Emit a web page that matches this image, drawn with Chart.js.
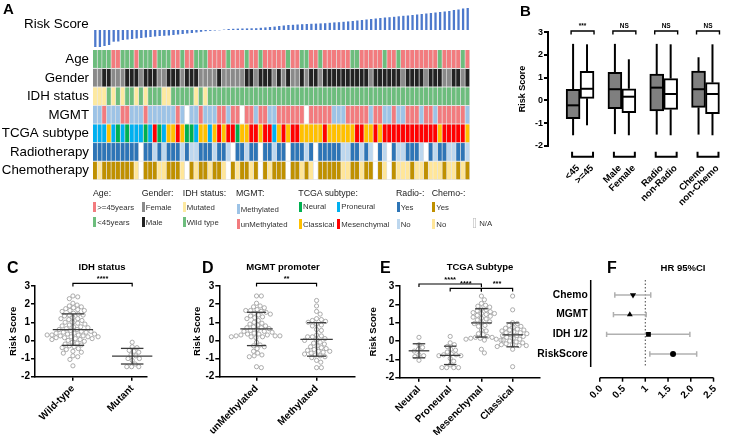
<!DOCTYPE html>
<html>
<head>
<meta charset="utf-8">
<title>Risk score figure</title>
<script src="https://cdn.jsdelivr.net/npm/chart.js@4.4.1/dist/chart.umd.min.js"></script>
<style>
  body { margin: 0; width: 738px; height: 435px; position: relative; overflow: hidden; background: #fff; font-family: "Liberation Sans", Arial, sans-serif; }
  canvas { position: absolute; }
  .t { position: absolute; white-space: nowrap; line-height: 1; color: #000; }
  .letter { font-weight: bold; }
  .ptitle { font-weight: bold; font-size: 9.5px; transform: translateX(-50%); }
  .lh { font-size: 8.8px; color: #222; }
  .li { position: absolute; display: flex; align-items: center; height: 10px; font-size: 7.8px; color: #333; white-space: nowrap; }
  .li i { display: block; width: 3px; height: 10px; margin-right: 1px; }
</style>
</head>
<body>
<canvas id="risk" width="474" height="50" style="left:0;top:0"></canvas>
<canvas id="heat" width="474" height="158" style="left:0;top:36px"></canvas>
<canvas id="boxB" width="268" height="210" style="left:470px;top:0"></canvas>
<canvas id="dotC" width="185" height="173" style="left:0;top:262px"></canvas>
<canvas id="dotD" width="177" height="173" style="left:185px;top:262px"></canvas>
<canvas id="dotE" width="183" height="173" style="left:362px;top:262px"></canvas>
<canvas id="forF" width="208" height="180" style="left:530px;top:255px"></canvas>

<div class="t letter" style="left:3px;top:1px;font-size:15px">A</div>
<div class="t letter" style="left:520px;top:3px;font-size:15px">B</div>
<div class="t letter" style="left:7px;top:260px;font-size:16px">C</div>
<div class="t letter" style="left:202px;top:260px;font-size:16px">D</div>
<div class="t letter" style="left:380px;top:260px;font-size:16px">E</div>
<div class="t letter" style="left:607px;top:260px;font-size:16px">F</div>

<div class="t" style="left:24px;top:17px;font-size:13.4px">Risk Score</div>

<div class="t ptitle" style="left:102px;top:262px">IDH status</div>
<div class="t ptitle" style="left:283px;top:262px">MGMT promoter</div>
<div class="t ptitle" style="left:480px;top:262px">TCGA Subtype</div>
<div class="t ptitle" style="left:683px;top:263px">HR 95%CI</div>

<!-- legend of panel A -->
<div class="t lh" style="left:93px;top:189px">Age:</div>
<div class="t lh" style="left:141.7px;top:189px">Gender:</div>
<div class="t lh" style="left:182.7px;top:189px">IDH status:</div>
<div class="t lh" style="left:236px;top:189px">MGMT:</div>
<div class="t lh" style="left:298.3px;top:189px">TCGA subtype:</div>
<div class="t lh" style="left:396px;top:189px">Radio-:</div>
<div class="t lh" style="left:431.7px;top:189px">Chemo-:</div>

<div class="li" style="left:93.3px;top:202.3px"><i style="background:#f27b7e"></i>&gt;=45years</div>
<div class="li" style="left:141.7px;top:202.3px"><i style="background:#8a8a8a"></i>Female</div>
<div class="li" style="left:182.7px;top:202.3px"><i style="background:#fde9a0"></i>Mutated</div>
<div class="li" style="left:236.7px;top:204px"><i style="background:#9dc3e6"></i>Methylated</div>
<div class="li" style="left:299px;top:201.7px"><i style="background:#00b050"></i>Neural</div>
<div class="li" style="left:337.3px;top:201.7px"><i style="background:#00b0f0"></i>Proneural</div>
<div class="li" style="left:396.7px;top:202.3px"><i style="background:#2e75b6"></i>Yes</div>
<div class="li" style="left:432.3px;top:202.3px"><i style="background:#bf9000"></i>Yes</div>

<div class="li" style="left:93.3px;top:217.3px"><i style="background:#6dbd7d"></i>&lt;45years</div>
<div class="li" style="left:141.7px;top:217.3px"><i style="background:#222222"></i>Male</div>
<div class="li" style="left:182.7px;top:217.3px"><i style="background:#6dbd7d"></i>Wild type</div>
<div class="li" style="left:236.7px;top:219px"><i style="background:#f27b7e"></i>unMethylated</div>
<div class="li" style="left:299px;top:219.3px"><i style="background:#ffc000"></i>Classical</div>
<div class="li" style="left:337.3px;top:219.3px"><i style="background:#ff0000"></i>Mesenchymal</div>
<div class="li" style="left:396.7px;top:219px"><i style="background:#bdd7ee"></i>No</div>
<div class="li" style="left:432.3px;top:219px"><i style="background:#ffe699"></i>No</div>
<div class="li" style="left:473px;top:218px"><i style="background:#fff;box-shadow:inset 0 0 0 0.6px #bbb"></i>&nbsp;N/A</div>

<script>
// ---------- data ----------
const riskScores = [
  -1.7, -1.7, -1.6, -1.5, -1.17, -1.15,
  -1.0, -0.95, -0.9, -0.85, -0.8, -0.75, -0.7,
  -0.65, -0.6, -0.58, -0.55, -0.5,
  -0.45, -0.4, -0.35, -0.3, -0.25,
  -0.18, -0.12, -0.08, -0.05,
  -0.03, 0.04,
  0.1, 0.12, 0.14, 0.15, 0.16, 0.17, 0.18,
  0.22, 0.26, 0.3, 0.34, 0.4, 0.45,
  0.5, 0.52, 0.55, 0.58, 0.6,
  0.62, 0.64, 0.66, 0.68, 0.72, 0.76,
  0.78, 0.82, 0.86, 0.9,
  0.95, 1.0, 1.05, 1.1,
  1.15, 1.2, 1.25, 1.28,
  1.32, 1.37, 1.42, 1.45,
  1.5, 1.55, 1.6, 1.65,
  1.7, 1.75, 1.8, 1.85,
  1.9, 2.0, 2.05, 2.15, 2.2
];

const rowNames = ['Age', 'Gender', 'IDH status', 'MGMT', 'TCGA subtype', 'Radiotherapy', 'Chemotherapy'];
// one letter per patient, same order as riskScores
const ageRow    = ('GGGGRRGGGRGGGRGGGRRGRRGGGRRRRGRRRGRRGRRRR' + 'RGRRGGRRGRRRRRRGGRRRRRGRRGRRRRRRRRGRRRRGR').split('');
const genderRow = ('YYKKYYYKKKYKKKYYKKKYKKKYYYYKYYYYYKKYKKKYK' + 'YKYYKYKKYKKKKKKKKKKYKKKKKKYKKKKYKKKYYKKYK').split('');
const idhRow    = ('MMMWMWMWWMWMWWWMMWWWWWMWMWWWWWWWWWWWWWWWW' + 'WWWWWWWWWWWWWWWWWWWWWWWWWWWWWWWWWWWWWWWWW').split('');
const mgmtRow   = ('BBUBBBUUBBBUBBBBBBUBNBBUBBBUUBUUNUUBUUBBU' + 'UUUUUNUUUUUBBBUUUUUBUUBBUBBUUUBUUBUUUUUUB').split('');
const tcgaRow   = ('PPPCPNPNPPPNPMNPCCMCNNPCCPCMCMMNCCMMCMMPC' + 'MCMMCCCCCMCCCCCCMMCCMCMMMMMMMMMMMMCMMMMMC').split('');
const radioRow  = ('DDDDDDDDDDNDDLDLDDDLDLLDDDLDDLNDDLDDNDDLD' + 'DNDDDLDNDDDDDLLDDLDLNDLNDLLDDDLNDLDDLLDDL').split('');
const chemoRow  = ('YOYYYYYYYONYYYOOYYYONYOYYOYYONYOYYOYNYOYY' + 'YNYYOYONYYYYYOOYYOYYNYONYOOOYOOYOOOYOOYOY').split('');

const boxLabels = ['<45', '>=45', 'Male', 'Female', 'Radio', 'non-Radio', 'Chemo', 'non-Chemo'];
const boxMin = [-1.54, -1.1, -1.49, -1.54, -1.51, -1.54, -1.51, -1.54];
const boxQ1  = [-0.81, 0.09, -0.37, -0.54, -0.47, -0.4, -0.31, -0.59];
const boxMed = [-0.22, 0.51, 0.49, 0.16, 0.56, 0.28, 0.49, 0.28];
const boxQ3  = [0.49, 1.28, 1.24, 0.51, 1.16, 0.96, 1.29, 0.78];
const boxMax = [2.49, 2.47, 2.49, 1.81, 2.49, 2.47, 1.9, 2.47];
const boxSig = ['***', 'NS', 'NS', 'NS'];

const yTicks = [-2, -1, 0, 1, 2, 3];

const idhCats = ['Wild-type', 'Mutant'];
const idhWild = [2.45, 2.4, 2.3, 2.05, 1.95, 1.9, 1.85, 1.8, 1.75, 1.7, 1.65, 1.65, 1.6, 1.5, 1.45, 1.4, 1.4, 1.35, 1.25, 1.2,
  1.2, 1.15, 1.1, 1.0, 1.0, 0.95, 0.9, 0.85, 0.8, 0.75, 0.75, 0.7, 0.65, 0.6, 0.6, 0.55, 0.5, 0.5, 0.45, 0.45,
  0.4, 0.4, 0.35, 0.35, 0.3, 0.3, 0.3, 0.25, 0.25, 0.2, 0.2, 0.2, 0.15, 0.15, 0.1, 0.1, 0.05, 0.05, 0.0, -0.05,
  -0.1, -0.15, -0.2, -0.25, -0.3, -0.35, -0.4, -0.45, -0.5, -0.6, -0.65, -0.7, -0.85, -0.9, -1.05, -1.4];
const idhMut = [-0.1, -0.35, -0.4, -0.55, -0.6, -0.65, -0.8, -0.85, -1.0, -1.0, -1.1, -1.3, -1.45, -1.45, -1.45];

const mgmtCats = ['unMethylated', 'Methylated'];
const mgmtUn = [2.45, 2.45, 2.05, 1.9, 1.85, 1.8, 1.7, 1.65, 1.65, 1.6, 1.55, 1.5, 1.45, 1.4, 1.35, 1.3, 1.25, 1.2, 1.1, 1.0,
  0.95, 0.9, 0.85, 0.8, 0.75, 0.7, 0.7, 0.65, 0.6, 0.55, 0.5, 0.5, 0.45, 0.4, 0.35, 0.35, 0.3, 0.3, 0.25, 0.25,
  0.25, 0.2, 0.2, 0.2, 0.15, -0.1, -0.25, -0.3, -0.35, -0.45, -0.6, -0.7, -0.8, -0.85, -0.9, -1.45, -1.5];
const mgmtMe = [2.2, 1.9, 1.6, 1.45, 1.2, 1.15, 1.1, 1.05, 1.0, 0.9, 0.85, 0.8, 0.6, 0.55, 0.3, 0.25, 0.2, 0.2, 0.1, 0.05,
  0.0, -0.1, -0.15, -0.2, -0.3, -0.35, -0.4, -0.45, -0.5, -0.55, -0.6, -0.6, -0.65, -0.7, -0.75, -0.8, -0.85, -0.9,
  -0.95, -1.1, -1.2, -1.5, -1.5];

const tcgaCats = ['Neural', 'Proneural', 'Mesenchymal', 'Classical'];
const tcgaNeu = [0.2, -0.2, -0.35, -0.45, -0.55, -0.75, -0.8, -0.85, -1.05];
const tcgaPro = [0.25, -0.1, -0.2, -0.3, -0.45, -0.5, -0.6, -0.7, -0.75, -0.75, -0.8, -0.8, -0.95, -1.1, -1.3, -1.45, -1.45, -1.45, -1.45];
const tcgaMes = [2.45, 2.25, 2.05, 1.95, 1.9, 1.85, 1.75, 1.7, 1.65, 1.6, 1.55, 1.5, 1.5, 1.45, 1.4, 1.35, 1.3, 1.25, 1.2, 1.15,
  1.05, 1.0, 0.95, 0.85, 0.8, 0.6, 0.55, 0.4, 0.35, 0.25, 0.2, 0.2, 0.15, 0.15, 0.1, 0.1, 0.05, 0.05, -0.45, -0.65];
const tcgaCla = [2.45, 1.7, 1.0, 0.95, 0.85, 0.8, 0.75, 0.7, 0.65, 0.6, 0.6, 0.55, 0.5, 0.45, 0.45, 0.4, 0.35, 0.3, 0.3, 0.25,
  0.2, 0.15, 0.1, 0.05, 0.0, -0.05, -0.1, -0.15, -0.2, -0.2, -0.25, -0.25, -0.3, -0.45, -1.4];

const hrVars = ['Chemo', 'MGMT', 'IDH 1/2', 'RiskScore'];
const hrVal  = [0.73, 0.66, 1.07, 1.61];
const hrLow  = [0.33, 0.30, 0.15, 1.10];
const hrHigh = [1.12, 1.02, 1.98, 2.13];
const hrTicks = [0, 0.5, 1, 1.5, 2, 2.5];

// ---------- styles ----------
Chart.defaults.font.family = "'Liberation Sans', Arial, sans-serif";
Chart.defaults.color = '#000';
Chart.defaults.animation = false;
Chart.defaults.responsive = false;
Chart.defaults.plugins.legend.display = false;
Chart.defaults.plugins.tooltip.enabled = false;

const noGrid = { display: false, drawTicks: false };

const rowColors = [
  { G: '#6dbd7d', R: '#f27b7e' },
  { Y: '#8a8a8a', K: '#222222' },
  { M: '#fde9a0', W: '#6dbd7d' },
  { B: '#9dc3e6', U: '#f27b7e', N: '#ffffff' },
  { N: '#00b050', P: '#00b0f0', C: '#ffc000', M: '#ff0000' },
  { D: '#2e75b6', L: '#bdd7ee', N: '#ffffff' },
  { Y: '#bf9000', O: '#ffe699', N: '#ffffff' }
];
const heatRows = [ageRow, genderRow, idhRow, mgmtRow, tcgaRow, radioRow, chemoRow];
const patients = riskScores.map((_, i) => i + 1);

// ---------- A: risk score bars ----------
new Chart(document.getElementById('risk'), {
  type: 'bar',
  data: {
    labels: patients,
    datasets: [{ data: riskScores, backgroundColor: '#4d79cc', barPercentage: 0.5, categoryPercentage: 1 }]
  },
  options: {
    layout: { padding: { left: 93, right: 4, top: 7, bottom: 3 } },
    scales: { x: { display: false }, y: { display: false, min: -1.7, max: 2.3 } }
  }
});

// ---------- A: heatmap ----------
new Chart(document.getElementById('heat'), {
  type: 'bar',
  data: {
    labels: patients,
    datasets: heatRows.map((row, r) => ({
      data: row.map(() => 1),
      backgroundColor: row.map(c => rowColors[r][c]),
      borderColor: '#e4e4e4',
      borderWidth: { top: 0, left: 0, right: 1, bottom: 1 },
      borderSkipped: false,
      barPercentage: 1,
      categoryPercentage: 1
    }))
  },
  options: {
    layout: { padding: { left: 0, right: 4, top: 14, bottom: 14 } },
    scales: {
      x: { display: false, stacked: true },
      y: {
        stacked: true, min: 0, max: 7, reverse: true,
        afterFit: s => { s.width = 93; },
        afterBuildTicks: s => { s.ticks = rowNames.map((_, i) => ({ value: i + 0.5 })); },
        ticks: { padding: 4, font: { size: 13.3 }, callback: (v, i) => rowNames[i] },
        grid: noGrid,
        border: { display: false }
      }
    }
  }
});

// ---------- B: box plots ----------
const boxPos = boxLabels.map((_, i) => Math.floor(i / 2) * 3 + (i % 2));

const boxExtras = {
  id: 'boxExtras',
  afterDatasetsDraw(chart) {
    const { ctx, scales: { y } } = chart;
    const bars = chart.getDatasetMeta(0).data;
    ctx.save();
    ctx.strokeStyle = '#000';
    ctx.lineWidth = 2;
    const line = (x1, y1, x2, y2) => { ctx.beginPath(); ctx.moveTo(x1, y1); ctx.lineTo(x2, y2); ctx.stroke(); };
    bars.forEach((b, i) => {
      const half = b.width / 2;
      line(b.x, y.getPixelForValue(boxMax[i]), b.x, y.getPixelForValue(boxQ3[i]));
      line(b.x, y.getPixelForValue(boxQ1[i]), b.x, y.getPixelForValue(boxMin[i]));
      line(b.x - half + 1, y.getPixelForValue(boxMed[i]), b.x + half - 1, y.getPixelForValue(boxMed[i]));
    });
    ctx.restore();
  },
  afterDraw(chart) {
    // pair brackets above the boxes and under them
    const { ctx, chartArea, scales: { y } } = chart;
    const bars = chart.getDatasetMeta(0).data;
    ctx.save();
    ctx.strokeStyle = '#000';
    ctx.fillStyle = '#000';
    ctx.font = 'bold 6.5px "Liberation Sans", Arial';
    ctx.textAlign = 'center';
    ctx.textBaseline = 'bottom';
    const topY = y.getPixelForValue(3.06);
    const botY = chartArea.bottom + 11;
    boxSig.forEach((txt, p) => {
      const x1 = bars[2 * p].x - 2, x2 = bars[2 * p + 1].x + 7;
      ctx.lineWidth = 1.4;
      ctx.beginPath(); ctx.moveTo(x1, topY + 3.5); ctx.lineTo(x1, topY); ctx.lineTo(x2, topY); ctx.lineTo(x2, topY + 3.5); ctx.stroke();
      ctx.fillText(txt, (x1 + x2) / 2, topY - 1);
      ctx.lineWidth = 2;
      const bx1 = bars[2 * p].x - 1, bx2 = bars[2 * p + 1].x + 6;
      ctx.beginPath(); ctx.moveTo(bx1, botY - 5); ctx.lineTo(bx1, botY); ctx.lineTo(bx2, botY); ctx.lineTo(bx2, botY - 5); ctx.stroke();
    });
    ctx.restore();
  }
};

new Chart(document.getElementById('boxB'), {
  type: 'bar',
  data: {
    datasets: [{
      data: boxLabels.map((_, i) => ({ x: boxPos[i], y: [boxQ1[i], boxQ3[i]] })),
      backgroundColor: boxLabels.map((_, i) => (i % 2 ? '#ffffff' : '#7f7f7f')),
      borderColor: '#000',
      borderWidth: 2,
      borderSkipped: false,
      barPercentage: 1,
      categoryPercentage: 1
    }]
  },
  options: {
    layout: { padding: { left: 47.6, right: 5, top: 32.3, bottom: 0 } },
    scales: {
      x: {
        type: 'linear', offset: false, min: -1.8, max: 11.2,
        afterBuildTicks: s => { s.ticks = boxPos.map(v => ({ value: v })); },
        afterFit: s => { s.height = 64.3; },
        ticks: { autoSkip: false, minRotation: 45, maxRotation: 45, padding: 17, labelOffset: 5, font: { size: 9.5, weight: 'bold' }, callback: (v, i) => boxLabels[i] },
        grid: noGrid,
        border: { display: false }
      },
      y: {
        min: -2, max: 3,
        afterBuildTicks: s => { s.ticks = yTicks.map(v => ({ value: v })); },
        afterFit: s => { s.width = 30.4; },
        ticks: { padding: 1, font: { size: 9, weight: 'bold' } },
        grid: { drawOnChartArea: false, tickLength: 4, color: '#000', lineWidth: 2 },
        border: { color: '#000', width: 2 },
        title: { display: true, text: 'Risk Score', padding: 0, font: { size: 9, weight: 'bold' } }
      }
    }
  },
  plugins: [boxExtras]
});

// ---------- C, D, E: dot plots with mean and SD ----------
function swarm(values, center, xs, ys) {
  const d = 4.4, step = 0.6;
  const cx = xs.getPixelForValue(center);
  const placed = [];
  return values.slice().sort((a, b) => b - a).map(v => {
    const py = ys.getPixelForValue(v);
    for (let k = 0; ; k++) {
      const off = k === 0 ? 0 : (k % 2 ? 1 : -1) * Math.ceil(k / 2) * step;
      if (placed.every(p => Math.hypot(p[0] - off, p[1] - py) >= d)) {
        placed.push([off, py]);
        return { x: xs.getValueForPixel(cx + off), y: v };
      }
    }
  });
}

function dotChart(id, cats, groups, sigs, sigLevels, xr, spread, yw, xh, pad) {
  const stats = groups.map(g => {
    const m = g.reduce((a, b) => a + b, 0) / g.length;
    const sd = Math.sqrt(g.reduce((a, b) => a + (b - m) * (b - m), 0) / (g.length - 1));
    return { m, sd };
  });
  const meanSd = {
    id: 'meanSd',
    afterDatasetsDraw(chart) {
      const { ctx, scales: { x, y } } = chart;
      ctx.save();
      ctx.strokeStyle = '#3a3a3a';
      ctx.lineWidth = 1.3;
      const hline = (i, v, h) => {
        ctx.beginPath();
        ctx.moveTo(x.getPixelForValue(i - h), y.getPixelForValue(v));
        ctx.lineTo(x.getPixelForValue(i + h), y.getPixelForValue(v));
        ctx.stroke();
      };
      stats.forEach((s, i) => {
        hline(i, s.m, spread.mean);
        hline(i, s.m + s.sd, spread.cap);
        hline(i, s.m - s.sd, spread.cap);
        ctx.beginPath();
        ctx.moveTo(x.getPixelForValue(i), y.getPixelForValue(s.m - s.sd));
        ctx.lineTo(x.getPixelForValue(i), y.getPixelForValue(s.m + s.sd));
        ctx.stroke();
      });
      ctx.strokeStyle = '#000';
      ctx.fillStyle = '#000';
      ctx.lineWidth = 1.2;
      ctx.font = 'bold 7.5px "Liberation Sans", Arial';
      ctx.textAlign = 'center';
      ctx.textBaseline = 'bottom';
      sigs.forEach(([a, b, txt], k) => {
        const x1 = x.getPixelForValue(a), x2 = x.getPixelForValue(b), yy = y.getPixelForValue(sigLevels[k]);
        ctx.beginPath(); ctx.moveTo(x1, yy + 3); ctx.lineTo(x1, yy); ctx.lineTo(x2, yy); ctx.lineTo(x2, yy + 3); ctx.stroke();
        ctx.fillText(txt, (x1 + x2) / 2, yy - 0.3);
      });
      ctx.restore();
    }
  };
  const axisGrid = { drawOnChartArea: false, tickLength: 4, color: '#000', lineWidth: 1.5 };
  const chart = new Chart(document.getElementById(id), {
    type: 'scatter',
    data: {
      datasets: groups.map(() => ({
        data: [], pointRadius: 2.1, pointBorderColor: '#a3a3a3', pointBorderWidth: 0.9, pointBackgroundColor: 'rgba(0,0,0,0)'
      }))
    },
    options: {
      layout: { padding: pad },
      scales: {
        x: {
          type: 'linear', min: xr[0], max: xr[1],
          afterBuildTicks: s => { s.ticks = cats.map((_, i) => ({ value: i })); },
          afterFit: s => { s.height = xh; },
          ticks: { autoSkip: false, minRotation: 45, maxRotation: 45, padding: 2, font: { size: 10, weight: 'bold' }, callback: (v, i) => cats[i] },
          grid: axisGrid,
          border: { color: '#000', width: 1.5 }
        },
        y: {
          min: -2, max: 3,
          afterBuildTicks: s => { s.ticks = yTicks.map(v => ({ value: v })); },
          afterFit: s => { s.width = yw; },
          ticks: { padding: 1, font: { size: 10, weight: 'bold' } },
          grid: axisGrid,
          border: { color: '#000', width: 1.5 },
          title: { display: true, text: 'Risk Score', padding: 0, font: { size: 9.5, weight: 'bold' } }
        }
      }
    },
    plugins: [meanSd]
  });
  chart.data.datasets.forEach((ds, i) => { ds.data = swarm(groups[i], i, chart.scales.x, chart.scales.y); });
  chart.update();
}

dotChart('dotC', idhCats, [idhWild, idhMut], [[0, 1, '****']], [3.14], [-0.64, 1.25],
  { mean: 0.34, cap: 0.19 }, 27.7, 58.3, { left: 7.3, right: 38, top: 24, bottom: 0 });
dotChart('dotD', mgmtCats, [mgmtUn, mgmtMe], [[0, 1, '**']], [3.14], [-0.62, 1.64],
  { mean: 0.27, cap: 0.16 }, 28, 58.3, { left: 6.3, right: 7, top: 24, bottom: 0 });
dotChart('dotE', tcgaCats, [tcgaNeu, tcgaPro, tcgaMes, tcgaCla], [[0, 2, '****'], [1, 2, '****'], [2, 3, '***']],
  [3.11, 2.87, 2.87], [-0.63, 3.88], { mean: 0.33, cap: 0.2 }, 32, 57.3, { left: 5.3, right: 3.3, top: 24, bottom: 0 });

// ---------- F: hazard ratios ----------
const forestExtras = {
  id: 'forestExtras',
  beforeDatasetsDraw(chart) {
    const { ctx, chartArea: a, scales: { x, y } } = chart;
    ctx.save();
    ctx.strokeStyle = '#000';
    ctx.lineWidth = 1.5;
    ctx.beginPath(); ctx.moveTo(a.left, a.top); ctx.lineTo(a.left, a.bottom); ctx.stroke();
    const ax = a.bottom + 10.7;
    ctx.beginPath(); ctx.moveTo(x.getPixelForValue(hrTicks[0]), ax); ctx.lineTo(x.getPixelForValue(hrTicks[hrTicks.length - 1]), ax); ctx.stroke();
    hrTicks.forEach(v => {
      const px = x.getPixelForValue(v);
      ctx.beginPath(); ctx.moveTo(px, ax); ctx.lineTo(px, ax + 4); ctx.stroke();
    });
    ctx.setLineDash([1.5, 2]);
    ctx.lineWidth = 1;
    ctx.strokeStyle = '#444';
    ctx.beginPath(); ctx.moveTo(x.getPixelForValue(1), a.top); ctx.lineTo(x.getPixelForValue(1), a.bottom); ctx.stroke();
    ctx.setLineDash([]);
    ctx.strokeStyle = '#b0b0b0';
    ctx.lineWidth = 1.5;
    hrVars.forEach((_, i) => {
      const py = y.getPixelForValue(i), x1 = x.getPixelForValue(hrLow[i]), x2 = x.getPixelForValue(hrHigh[i]);
      ctx.beginPath(); ctx.moveTo(x1, py); ctx.lineTo(x2, py); ctx.stroke();
      ctx.beginPath(); ctx.moveTo(x1, py - 2.7); ctx.lineTo(x1, py + 2.7); ctx.moveTo(x2, py - 2.7); ctx.lineTo(x2, py + 2.7); ctx.stroke();
    });
    ctx.restore();
  }
};

new Chart(document.getElementById('forF'), {
  type: 'scatter',
  data: {
    datasets: [{
      data: hrVars.map((_, i) => ({ x: hrVal[i], y: i })),
      pointStyle: ['triangle', 'triangle', 'rect', 'circle'],
      pointRotation: [180, 0, 0, 0],
      pointRadius: [3.6, 3.4, 3.4, 3],
      pointBackgroundColor: '#000',
      pointBorderColor: '#000',
      pointBorderWidth: 0
    }]
  },
  options: {
    layout: { padding: { left: 0, right: 3, top: 25, bottom: 0 } },
    scales: {
      x: {
        min: -0.2, max: 2.5,
        afterBuildTicks: s => { s.ticks = hrTicks.map(v => ({ value: v })); },
        afterFit: s => { s.height = 68; },
        ticks: { autoSkip: false, minRotation: 45, maxRotation: 45, padding: 16, labelOffset: 1.5, font: { size: 10, weight: 'bold' }, callback: v => (v === 1 ? '1' : v.toFixed(1)) },
        grid: noGrid,
        border: { display: false }
      },
      y: {
        reverse: true, min: -0.76, max: 3.66,
        afterBuildTicks: s => { s.ticks = hrVars.map((_, i) => ({ value: i })); },
        afterFit: s => { s.width = 60.7; },
        ticks: { padding: 3, font: { size: 10.3, weight: 'bold' }, callback: (v, i) => hrVars[i] },
        grid: noGrid,
        border: { display: false }
      }
    }
  },
  plugins: [forestExtras]
});
</script>
</body>
</html>
